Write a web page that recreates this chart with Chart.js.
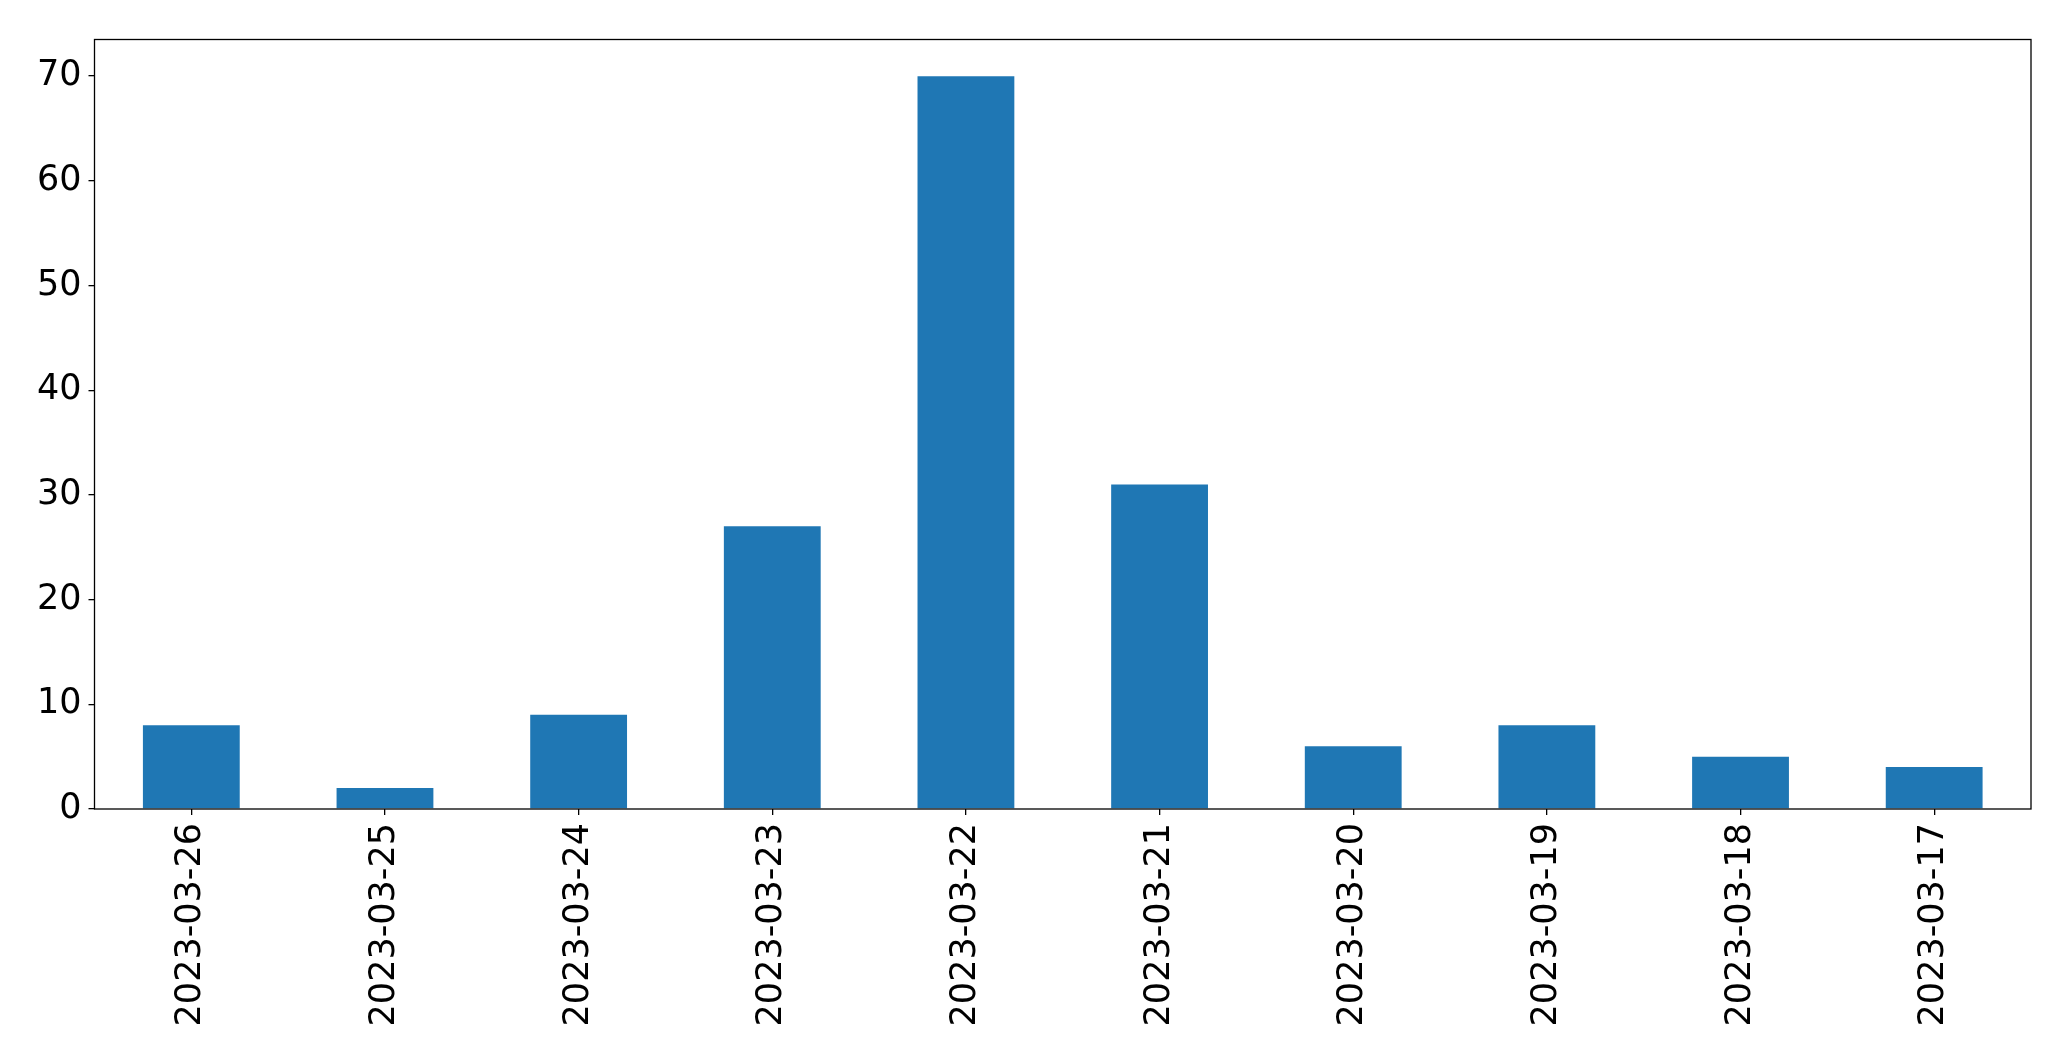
<!DOCTYPE html>
<html>
<head>
<meta charset="utf-8">
<script src="https://cdn.jsdelivr.net/npm/chart.js@4/dist/chart.umd.min.js"></script>
<style>
  html, body { margin: 0; padding: 0; background: #fff; }
  #wrap { width: 2071px; height: 1061px; }
</style>
</head>
<body>
<div id="wrap"><canvas id="bar-chart" width="2071" height="1061"></canvas></div>
<script>
// ---------- DATA ----------
const dates = ['2023-03-26', '2023-03-25', '2023-03-24', '2023-03-23', '2023-03-22',
  '2023-03-21', '2023-03-20', '2023-03-19', '2023-03-18', '2023-03-17'];
const counts = [8, 2, 9, 27, 70, 31, 6, 8, 5, 4];
const yTicks = [0, 10, 20, 30, 40, 50, 60, 70];

// box round the plot area, like a matplotlib frame
const frame = {
  id: 'frame',
  afterDraw(chart) {
    const { ctx, chartArea: a } = chart;
    ctx.save();
    ctx.strokeStyle = '#000';
    ctx.lineWidth = 1.3;
    ctx.strokeRect(a.left, a.top, a.right - a.left, a.bottom - a.top);
    ctx.restore();
  }
};

const ctx = document.getElementById('bar-chart').getContext('2d');
const barChart = new Chart(ctx, {
  type: 'bar',
  data: {
    labels: dates,
    datasets: [{
      data: counts,
      backgroundColor: '#1f77b4',
      borderWidth: 0,
      barPercentage: 0.5,
      categoryPercentage: 1.0
    }]
  },
  options: {
    responsive: false,
    animation: false,
    devicePixelRatio: 1,
    layout: { padding: { top: 39.5, right: 40, left: 0, bottom: 0 } },
    plugins: {
      legend: { display: false },
      tooltip: { enabled: false }
    },
    scales: {
      x: {
        grid: { offset: false, drawOnChartArea: false, drawTicks: true, tickLength: 6, color: '#000', lineWidth: 1.3 },
        border: { display: false },
        ticks: {
          color: '#000',
          font: { family: 'DejaVu Sans', size: 35 },
          maxRotation: 90,
          minRotation: 90,
          autoSkip: false,
          padding: 8
        },
        afterFit(scale) { scale.height = 252; }
      },
      y: {
        min: 0,
        max: 73.5,
        afterBuildTicks(scale) { scale.ticks = yTicks.map(v => ({ value: v })); },
        grid: { drawOnChartArea: false, drawTicks: true, tickLength: 6, color: '#000', lineWidth: 1.3 },
        border: { display: false },
        ticks: {
          color: '#000',
          font: { family: 'DejaVu Sans', size: 35 },
          padding: 7
        },
        afterFit(scale) { scale.width = 94.5; }
      }
    }
  },
  plugins: [frame]
});
</script>
</body>
</html>
